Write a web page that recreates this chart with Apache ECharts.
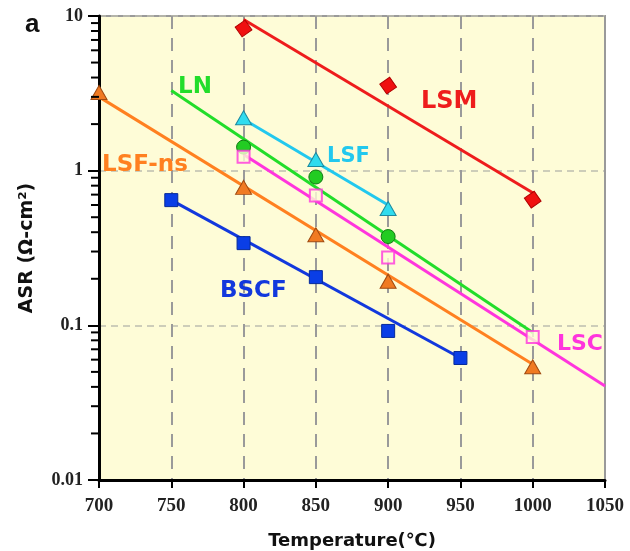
<!DOCTYPE html>
<html>
<head>
<meta charset="utf-8">
<script src="https://cdn.jsdelivr.net/npm/echarts@6/dist/echarts.min.js"></script>
<style>
  html, body { margin: 0; padding: 0; background: #ffffff; }
  #chart { width: 630px; height: 551px; }
</style>
</head>
<body>
<div id="chart"></div>
<script>
// Area-specific resistance of cathode materials vs. temperature (log scale)
const xTicks = [700, 750, 800, 850, 900, 950, 1000, 1050];
const yMajor = [0.01, 0.1, 1, 10];
const yMinor = [0.02, 0.03, 0.04, 0.05, 0.06, 0.07, 0.08, 0.09,
                0.2, 0.3, 0.4, 0.5, 0.6, 0.7, 0.8, 0.9,
                2, 3, 4, 5, 6, 7, 8, 9];

// measured points
const lsmT = [800, 900, 1000];
const lsmASR = [8.3, 3.55, 0.65];
const lnT = [800, 850, 900];
const lnASR = [1.42, 0.91, 0.375];
const lsfT = [800, 850, 900];
const lsfASR = [2.2, 1.18, 0.57];
const lscT = [800, 850, 900, 1000];
const lscASR = [1.23, 0.69, 0.275, 0.084];
const lsfnsT = [700, 800, 850, 900, 1000];
const lsfnsASR = [3.2, 0.78, 0.385, 0.193, 0.054];
const bscfT = [750, 800, 850, 900, 950];
const bscfASR = [0.645, 0.34, 0.205, 0.092, 0.0615];

// fitted lines (end points)
const lsmFitT = [800, 1000];
const lsmFit = [9.5, 0.72];
const lnFitT = [750, 1000];
const lnFit = [3.3, 0.09];
const lsfFitT = [800, 900];
const lsfFit = [2.15, 0.6];
const lscFitT = [800, 1050];
const lscFit = [1.27, 0.0405];
const lsfnsFitT = [700, 1000];
const lsfnsFit = [3.0, 0.056];
const bscfFitT = [750, 950];
const bscfFit = [0.645, 0.0615];

const pairs = (xs, ys) => xs.map((x, i) => [x, ys[i]]);

const chart = echarts.init(document.getElementById('chart'), null, { renderer: 'canvas' });

const labelFont = 'DejaVu Sans';
const numFont = 'Liberation Serif';

function fitLine(name, xs, ys, color) {
  return {
    name: name, type: 'line', data: pairs(xs, ys), symbol: 'none', z: 2,
    lineStyle: { color: color, width: 3 }, silent: true
  };
}
function points(name, xs, ys, symbol, size, fill, border, extra) {
  return Object.assign({
    name: name, type: 'scatter', data: pairs(xs, ys), symbol: symbol, symbolSize: size, z: 3,
    itemStyle: { color: fill, borderColor: border, borderWidth: 1, opacity: 1 }, silent: true
  }, extra || {});
}

function textEl(str, x, y, color, size, font, weight) {
  return {
    type: 'text', left: x, top: y, z: 10,
    style: { text: str, fill: color, font: (weight || 'bold') + ' ' + size + 'px "' + (font || labelFont) + '"' }
  };
}

chart.setOption({
  animation: false,
  backgroundColor: '#ffffff',
  grid: {
    left: 99, top: 16, width: 506, height: 464, containLabel: false, outerBoundsMode: 'none',
    show: true, backgroundColor: '#fefcd7', borderColor: '#9a9a9a', borderWidth: 2
  },
  xAxis: {
    type: 'value', min: xTicks[0], max: xTicks[xTicks.length - 1], interval: 50,
    name: 'Temperature(℃)', nameLocation: 'middle', nameGap: 52,
    nameTextStyle: { color: '#111', fontFamily: labelFont, fontWeight: 'bold', fontSize: 18 },
    axisLine: { show: true, onZero: false, lineStyle: { color: '#000', width: 3 } },
    axisTick: { show: true, inside: false, length: 8, lineStyle: { color: '#000', width: 2 } },
    axisLabel: {
      color: '#222', fontFamily: numFont, fontWeight: 'bold', fontSize: 19, margin: 17,
      formatter: v => String(v)
    },
    splitLine: { show: true, lineStyle: { color: '#9a9a9a', width: 2, type: [13, 9] } }
  },
  yAxis: {
    type: 'log', logBase: 10, min: yMajor[0], max: yMajor[yMajor.length - 1],
    name: 'ASR (Ω-cm²)', nameLocation: 'middle', nameGap: 62, nameRotate: 90,
    nameTextStyle: { color: '#111', fontFamily: labelFont, fontWeight: 'bold', fontSize: 19 },
    axisLine: { show: true, onZero: false, lineStyle: { color: '#000', width: 3 } },
    axisTick: { show: true, inside: false, length: 11, lineStyle: { color: '#000', width: 2 } },
    minorTick: { show: false },
    axisLabel: {
      color: '#222', fontFamily: numFont, fontWeight: 'bold', fontSize: 18, margin: 16,
      formatter: v => String(v)
    },
    splitLine: { show: true, lineStyle: { color: '#bdbdb0', width: 1.5, type: [7, 5] } }
  },
  series: [
    {
      type: 'custom', name: 'minorTicks', coordinateSystem: 'cartesian2d', clip: false, silent: true, z: 5,
      data: yMinor.map(v => [xTicks[0], v]),
      renderItem: function (params, api) {
        const p = api.coord([api.value(0), api.value(1)]);
        return {
          type: 'line',
          shape: { x1: p[0] - 8, y1: p[1], x2: p[0], y2: p[1] },
          style: { stroke: '#000', lineWidth: 2 }
        };
      }
    },
    fitLine('LSM fit', lsmFitT, lsmFit, '#ee1c1c'),
    fitLine('LN fit', lnFitT, lnFit, '#22dd2a'),
    fitLine('LSF fit', lsfFitT, lsfFit, '#22c8ee'),
    fitLine('LSC fit', lscFitT, lscFit, '#ff35dd'),
    fitLine('LSF-ns fit', lsfnsFitT, lsfnsFit, '#ff8020'),
    fitLine('BSCF fit', bscfFitT, bscfFit, '#1238dd'),
    points('LSM', lsmT, lsmASR, 'rect', 12, '#f01010', '#b00000', { symbolRotate: 35 }),
    points('LN', lnT, lnASR, 'circle', 14, '#22cc22', '#137a13'),
    points('LSF', lsfT, lsfASR, 'triangle', [16, 14], '#30dcee', '#1c8aa0'),
    points('LSC', lscT, lscASR, 'rect', 12, '#fefcd7', '#ff35dd', { itemStyle: { color: '#fefcd7', borderColor: '#ff35dd', borderWidth: 2 } }),
    points('LSF-ns', lsfnsT, lsfnsASR, 'triangle', [16, 14], '#f07a22', '#a04a10'),
    points('BSCF', bscfT, bscfASR, 'rect', 13, '#0a3ee6', '#062a9a')
  ],
  graphic: [
    textEl('a', 25, 12, '#111', 26, 'Liberation Sans'),
    textEl('LN', 178, 76, '#22dd2a', 23),
    textEl('LSF', 327, 146, '#22c8ee', 21),
    textEl('LSM', 421, 90, '#ee1c1c', 24),
    textEl('LSF-ns', 102, 154, '#ff8020', 23),
    textEl('BSCF', 220, 280, '#1238dd', 23),
    textEl('LSC', 557, 333, '#ff35dd', 22)
  ]
});
</script>
</body>
</html>
